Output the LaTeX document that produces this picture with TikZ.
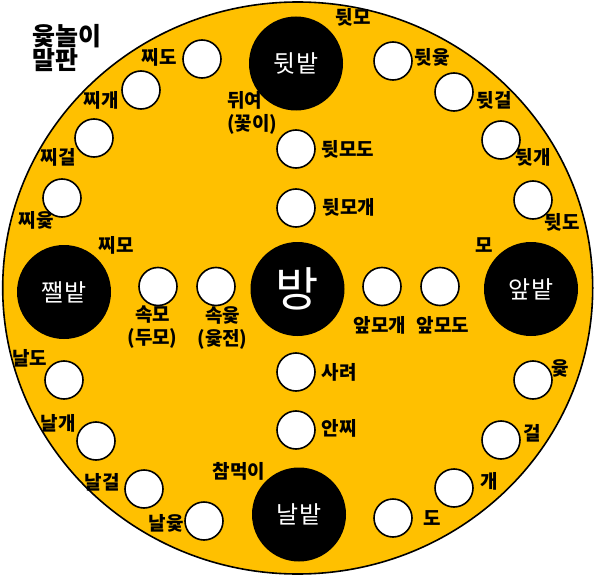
\documentclass[tikz,border=0pt]{standalone}
\usepackage{fontspec}
\setmainfont{Noto Sans CJK KR}
\definecolor{boardgold}{RGB}{255,192,0}

\begin{document}
\begin{tikzpicture}[x=1pt, y=-1pt,
	hole/.style={circle, draw=black, fill=white, line width=1.6pt, minimum size=38pt, inner sep=0pt},
	home/.style={circle, fill=black, minimum size=94pt, inner sep=0pt, text=white, font=\fontsize{24}{28}\selectfont},
	lbl/.style={font=\fontsize{19}{23}\selectfont\bfseries, inner sep=0pt, align=center}]
	\useasboundingbox (0,0) rectangle (600,578);
	\draw[line width=1.6pt, fill=boardgold] (297.7,288) ellipse [x radius=295, y radius=286];
	\node[anchor=west, align=left, inner sep=0pt, font=\fontsize{25}{24}\selectfont\bfseries] (title) at (32,48) {윷놀이\\말판};
	% corners and centre
	\node[home] (dwibat) at (296,63.5) {뒷밭};
	\node[home, font=\fontsize{47}{50}\selectfont] (bang) at (297.5,289) {방};
	\node[home] (apbat) at (531,289) {앞밭};
	\node[home] (jjaelbat) at (64,292) {쨀밭};
	\node[home] (nalbat) at (299,514.5) {날밭};
	% outer ring
	\node[hole] (jido) at (202,59) {};
	\node[hole] (jigae) at (141,90) {};
	\node[hole] (jigeol) at (94,138) {};
	\node[hole] (jiyut) at (62,198) {};
	\node[hole] (dwiyut) at (393,61) {};
	\node[hole] (dwigeol) at (454,92) {};
	\node[hole] (dwigae) at (501,140) {};
	\node[hole] (dwido) at (533,200) {};
	\node[hole] (naldo) at (64,380) {};
	\node[hole] (nalgae) at (96,441) {};
	\node[hole] (nalgeol) at (144,489) {};
	\node[hole] (nalyut) at (204,521) {};
	\node[hole] (yut) at (533,380) {};
	\node[hole] (geol) at (501,440) {};
	\node[hole] (gae) at (454,488) {};
	\node[hole] (do) at (393,518) {};
	% cross
	\node[hole] (dwimodo) at (296,149) {};
	\node[hole] (dwimogae) at (296,208) {};
	\node[hole] (sari) at (296,372) {};
	\node[hole] (anji) at (296,430) {};
	\node[hole] (sokmo) at (158,286.5) {};
	\node[hole] (sokyut) at (216,286.5) {};
	\node[hole] (apmogae) at (382,286.5) {};
	\node[hole] (apmodo) at (440,286.5) {};
	% labels
	\node[lbl] (jidoL) at (159,57) {찌도};
	\node[lbl] (jigaeL) at (101,100) {찌개};
	\node[lbl] (jigeolL) at (58,157) {찌걸};
	\node[lbl] (jiyutL) at (36,220) {찌윷};
	\node[lbl] (jimoL) at (116,245) {찌모};
	\node[lbl, align=left, anchor=west] (dwiyeoL) at (227,113) {뒤여\\(꽃이)};
	\node[lbl] (dwimoL) at (353,17) {뒷모};
	\node[lbl] (dwiyutL) at (432,57) {뒷윷};
	\node[lbl] (dwigeolL) at (494,100) {뒷걸};
	\node[lbl] (dwigaeL) at (533,157) {뒷개};
	\node[lbl] (dwidoL) at (562,222) {뒷도};
	\node[lbl] (dwimodoL) at (348,149) {뒷모도};
	\node[lbl] (dwimogaeL) at (349,207) {뒷모개};
	\node[lbl] (moL) at (484,245) {모};
	\node[lbl] (sokmoL) at (152.5,327.5) {속모\\(두모)};
	\node[lbl] (sokyutL) at (222.5,328) {속윷\\(윷전)};
	\node[lbl] (apmogaeL) at (380,325) {앞모개};
	\node[lbl] (apmodoL) at (443,325) {앞모도};
	\node[lbl] (naldoL) at (30,358) {날도};
	\node[lbl] (nalgaeL) at (58,423) {날개};
	\node[lbl] (nalgeolL) at (102,482) {날걸};
	\node[lbl] (nalyutL) at (166,523) {날윷};
	\node[lbl] (chammeokL) at (239,471) {참먹이};
	\node[lbl] (sariL) at (339,372) {사려};
	\node[lbl] (anjiL) at (339,428) {안찌};
	\node[lbl] (yutL) at (560,368) {윷};
	\node[lbl] (geolL) at (532,433) {걸};
	\node[lbl] (gaeL) at (489,481) {개};
	\node[lbl] (doL) at (432,518) {도};
\end{tikzpicture}
\end{document}
